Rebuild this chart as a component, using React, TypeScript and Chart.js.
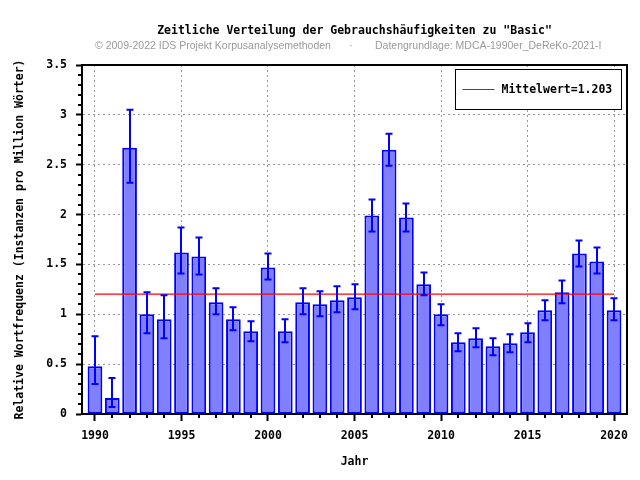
import React, { useEffect, useRef } from 'react';
import { Chart, registerables } from 'chart.js';

Chart.register(...registerables);

const years = [1990, 1991, 1992, 1993, 1994, 1995, 1996, 1997, 1998, 1999, 2000, 2001, 2002, 2003, 2004, 2005, 2006, 2007, 2008, 2009, 2010, 2011, 2012, 2013, 2014, 2015, 2016, 2017, 2018, 2019, 2020];
const frequencies = [0.48, 0.16, 2.67, 1.0, 0.95, 1.62, 1.58, 1.12, 0.95, 0.83, 1.47, 0.83, 1.12, 1.1, 1.14, 1.17, 1.99, 2.65, 1.97, 1.3, 1.0, 0.72, 0.76, 0.68, 0.71, 0.82, 1.04, 1.22, 1.61, 1.53, 1.04];
const errorHigh = [0.78, 0.36, 3.05, 1.22, 1.19, 1.87, 1.77, 1.26, 1.07, 0.93, 1.61, 0.95, 1.26, 1.23, 1.28, 1.3, 2.15, 2.81, 2.11, 1.42, 1.1, 0.81, 0.86, 0.76, 0.8, 0.91, 1.14, 1.34, 1.74, 1.67, 1.16];
const errorLow = [0.3, 0.07, 2.32, 0.81, 0.76, 1.41, 1.4, 1.0, 0.84, 0.73, 1.35, 0.72, 1.0, 0.98, 1.02, 1.05, 1.83, 2.49, 1.83, 1.19, 0.89, 0.63, 0.67, 0.59, 0.62, 0.72, 0.94, 1.11, 1.48, 1.41, 0.94];
const meanValue = 1.203;
const xTickValues = [1990, 1995, 2000, 2005, 2010, 2015, 2020];
const yTickValues = [0, 0.5, 1, 1.5, 2, 2.5, 3, 3.5];

const titleText = 'Zeitliche Verteilung der Gebrauchshäufigkeiten zu "Basic"';
const subtitleLeft = '© 2009-2022 IDS Projekt Korpusanalysemethoden';
const subtitleDot = '·';
const subtitleRight = 'Datengrundlage: MDCA-1990er_DeReKo-2021-I';
const xAxisTitle = 'Jahr';
const yAxisTitle = 'Relative Wortfrequenz (Instanzen pro Million Wörter)';
const legendLabel = `Mittelwert=${meanValue}`;

const MONO = '"DejaVu Sans Mono", monospace';
const monoFont = { family: MONO, size: 11.5, weight: 'bold' as const };

const decorPlugin = {
  id: 'decor',
  afterDatasetsDraw(chart: any) {
    const ctx = chart.ctx as CanvasRenderingContext2D;
    const xs = chart.scales.x;
    const ys = chart.scales.y;
    ctx.save();
    ctx.strokeStyle = '#0000ff';
    ctx.lineWidth = 2;
    years.forEach((yr, i) => {
      const x = Math.round(xs.getPixelForValue(yr));
      const yh = ys.getPixelForValue(errorHigh[i]);
      const yl = ys.getPixelForValue(errorLow[i]);
      ctx.beginPath();
      ctx.moveTo(x, yh);
      ctx.lineTo(x, yl);
      ctx.moveTo(x - 3.5, yh);
      ctx.lineTo(x + 3.5, yh);
      ctx.moveTo(x - 3.5, yl);
      ctx.lineTo(x + 3.5, yl);
      ctx.stroke();
    });
    ctx.restore();
  },
  afterDraw(chart: any) {
    const ctx = chart.ctx as CanvasRenderingContext2D;
    const { left, right, top, bottom } = chart.chartArea;
    const xs = chart.scales.x;
    const ys = chart.scales.y;
    ctx.save();
    // frame top/right
    ctx.strokeStyle = '#000';
    ctx.lineWidth = 2;
    ctx.beginPath();
    ctx.moveTo(left - 1, top);
    ctx.lineTo(right, top);
    ctx.lineTo(right, bottom + 1);
    ctx.stroke();
    // minor ticks
    ctx.lineWidth = 2;
    ctx.beginPath();
    for (let i = 0; i <= 35; i++) {
      if (i % 5 === 0) continue;
      const y = Math.round(ys.getPixelForValue(i / 10));
      ctx.moveTo(left - 4, y);
      ctx.lineTo(left, y);
    }
    years.forEach((yr) => {
      if (xTickValues.includes(yr)) return;
      const x = Math.round(xs.getPixelForValue(yr));
      ctx.moveTo(x, bottom);
      ctx.lineTo(x, bottom + 4);
    });
    ctx.stroke();

    // title
    ctx.fillStyle = '#000';
    ctx.font = `bold 11.5px ${MONO}`;
    ctx.textAlign = 'center';
    ctx.textBaseline = 'middle';
    ctx.fillText(titleText, (left + right) / 2, 31.5);

    // subtitle
    ctx.fillStyle = '#9a9a9a';
    ctx.font = '10.5px "Liberation Sans", Arial, sans-serif';
    ctx.textAlign = 'left';
    ctx.fillText(subtitleLeft, 95, 46.5);
    ctx.textAlign = 'center';
    ctx.fillText(subtitleDot, 351, 46.5);
    ctx.textAlign = 'left';
    ctx.fillText(subtitleRight, 375, 46.5);

    // legend
    const bw = 166;
    const bh = 40;
    const bx = Math.round(right - 6 - bw) + 0.5;
    const by = Math.round(top + 4) + 0.5;
    ctx.fillStyle = '#fff';
    ctx.fillRect(bx, by, bw, bh);
    ctx.strokeStyle = '#000';
    ctx.lineWidth = 1;
    ctx.strokeRect(bx, by, bw, bh);
    const cy = Math.round(by + bh / 2) - 0.5;
    ctx.strokeStyle = '#ff0000';
    ctx.beginPath();
    ctx.moveTo(bx + 7, cy);
    ctx.lineTo(bx + 39, cy);
    ctx.stroke();
    ctx.fillStyle = '#000';
    ctx.font = `bold 11.5px ${MONO}`;
    ctx.textAlign = 'left';
    ctx.textBaseline = 'middle';
    ctx.fillText(legendLabel, bx + 46, cy + 0.5);
    ctx.restore();
  },
};

export default function App() {
  const canvasRef = useRef<HTMLCanvasElement | null>(null);

  useEffect(() => {
    if (!canvasRef.current) return;
    const chart = new Chart(canvasRef.current, {
      type: 'bar',
      data: {
        datasets: [
          {
            type: 'line' as any,
            label: legendLabel,
            data: [
              { x: years[0], y: meanValue },
              { x: years[years.length - 1], y: meanValue },
            ],
            borderColor: '#ff0000',
            borderWidth: 1.3,
            pointRadius: 0,
            fill: false,
            order: 0,
          } as any,
          {
            type: 'bar',
            label: 'Relative Wortfrequenz',
            data: years.map((yr, i) => ({ x: yr, y: frequencies[i] })),
            backgroundColor: '#8080ff',
            borderColor: '#0000ff',
            borderWidth: 2,
            borderSkipped: false,
            categoryPercentage: 1,
            barPercentage: 0.85,
            order: 1,
          } as any,
        ],
      },
      options: {
        animation: false,
        responsive: false,
        devicePixelRatio: 1,
        layout: { padding: { top: 65, right: 13, left: 0, bottom: 0 } },
        plugins: {
          legend: { display: false },
          title: { display: false },
          tooltip: { enabled: false },
        },
        scales: {
          x: {
            type: 'linear',
            min: 1989.25,
            max: 2020.75,
            bounds: 'data',
            offset: false,
            afterBuildTicks: (s: any) => {
              s.ticks = xTickValues.map((v) => ({ value: v }));
            },
            afterFit: (s: any) => {
              s.height = 66;
            },
            ticks: {
              font: monoFont,
              color: '#000',
              padding: 8,
              maxRotation: 0,
              autoSkip: false,
              callback: (v: any) => String(v),
            },
            grid: {
              offset: false,
              color: '#999999',
              lineWidth: 1,
              tickLength: 7,
              tickWidth: 2,
              tickColor: '#000',
            },
            border: { display: true, color: '#000', width: 2, dash: [2, 3], z: 1 },
            title: {
              display: true,
              text: xAxisTitle,
              font: monoFont,
              color: '#000',
              padding: { top: 0, bottom: 11 },
            },
          } as any,
          y: {
            type: 'linear',
            min: 0,
            max: 3.5,
            bounds: 'data',
            afterBuildTicks: (s: any) => {
              s.ticks = yTickValues.map((v) => ({ value: v }));
            },
            afterFit: (s: any) => {
              s.width = 82;
            },
            ticks: {
              font: monoFont,
              color: '#000',
              padding: 9,
              callback: (v: any) => String(v),
            },
            grid: {
              color: '#999999',
              lineWidth: 1,
              tickLength: 6,
              tickWidth: 2,
              tickColor: '#000',
            },
            border: { display: true, color: '#000', width: 2, dash: [2, 3], z: 1 },
            title: {
              display: true,
              text: yAxisTitle,
              font: monoFont,
              color: '#000',
              padding: { top: 13, bottom: 0 },
            },
          } as any,
        },
      },
      plugins: [decorPlugin as any],
    });
    return () => chart.destroy();
  }, []);

  return (
    <div style={{ position: 'absolute', left: 0, top: 0, width: 640, height: 480, background: '#fff' }}>
      <canvas ref={canvasRef} width={640} height={480} style={{ display: 'block' }} />
    </div>
  );
}
